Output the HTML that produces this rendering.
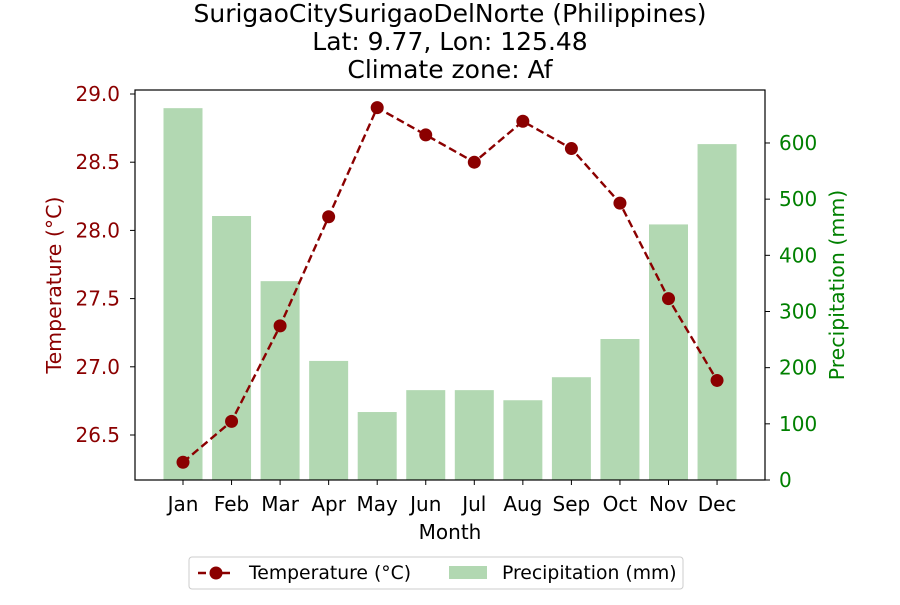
<!DOCTYPE html>
<html><head><meta charset="utf-8"><style>
body{margin:0;background:#fff;font-family:"Liberation Sans","DejaVu Sans",sans-serif;}
svg text{font-family:"DejaVu Sans","Liberation Sans",sans-serif;}
</style></head><body>
<svg id="c" width="900" height="600" xmlns="http://www.w3.org/2000/svg">
<text x="450" y="22" text-anchor="middle" font-size="25">SurigaoCitySurigaoDelNorte (Philippines)</text>
<text x="450" y="50" text-anchor="middle" font-size="25">Lat: 9.77, Lon: 125.48</text>
<text x="450" y="78" text-anchor="middle" font-size="25">Climate zone: Af</text>
<g id="bars"></g><g id="line"></g><g id="axes"></g>
<rect x="135" y="90" width="630" height="390" fill="none" stroke="#000" stroke-width="1.2"/>
<text x="450" y="539" text-anchor="middle" font-size="20">Month</text>
<text transform="translate(61,285) rotate(-90)" text-anchor="middle" font-size="20.5" fill="#8b0000">Temperature (°C)</text>
<text transform="translate(844,285) rotate(-90)" text-anchor="middle" font-size="20.5" fill="#008000">Precipitation (mm)</text>
<g>
<rect x="189" y="557" width="494" height="32" rx="3" fill="#fff" stroke="#ccc"/>
<g>
<line x1="198" y1="573" x2="234" y2="573" stroke="#8b0000" stroke-width="2.4" stroke-dasharray="8,4"/>
<circle cx="216" cy="573" r="6.5" fill="#8b0000"/>
<text x="249" y="579" font-size="18.8">Temperature (°C)</text></g>
<g>
<rect x="449" y="566" width="38" height="13" fill="#b2d8b2"/>
<text x="502" y="579" font-size="18.8">Precipitation (mm)</text></g>
</g>
</svg>
<script>
const months=["Jan","Feb","Mar","Apr","May","Jun","Jul","Aug","Sep","Oct","Nov","Dec"];
const temps=[26.3,26.6,27.3,28.1,28.9,28.7,28.5,28.8,28.6,28.2,27.5,26.9];
const precip=[662,470,354,212,121,160,160,142,183,251,455,598];
const tempTicks=[26.5,27.0,27.5,28.0,28.5,29.0];
const precipTicks=[0,100,200,300,400,500,600];
const NS="http://www.w3.org/2000/svg";
const x=i=>183+i*48.55;
const yT=v=>435-(v-26.5)*136.4;
const yP=v=>480-v*0.5617;
function mk(t,a,p){const e=document.createElementNS(NS,t);for(const k in a)e.setAttribute(k,a[k]);p.appendChild(e);return e;}
const bars=document.getElementById('bars'),line=document.getElementById('line'),axes=document.getElementById('axes');
precip.forEach((v,i)=>{const r=mk('rect',{x:x(i)-19.5,y:yP(v),width:39,height:480-yP(v),fill:'#b2d8b2'},bars);

});
const pl=mk('polyline',{points:temps.map((v,i)=>x(i)+','+yT(v)).join(' '),fill:'none',stroke:'#8b0000','stroke-width':2.4,'stroke-dasharray':'8,4'},line);


temps.forEach((v,i)=>{const c=mk('circle',{cx:x(i),cy:yT(v),r:6.5,fill:'#8b0000'},line);

});
months.forEach((m,i)=>{mk('line',{x1:x(i),y1:480,x2:x(i),y2:485,stroke:'#000'},axes);
const t=mk('text',{x:x(i),y:511,'text-anchor':'middle','font-size':20},axes);t.textContent=m;

});
tempTicks.forEach(v=>{mk('line',{x1:130,y1:yT(v),x2:135,y2:yT(v),stroke:'#000'},axes);
const t=mk('text',{x:120,y:yT(v)+7,'text-anchor':'end','font-size':20,fill:'#8b0000'},axes);t.textContent=v.toFixed(1);

});
precipTicks.forEach(v=>{mk('line',{x1:765,y1:yP(v),x2:770,y2:yP(v),stroke:'#000'},axes);
const t=mk('text',{x:779,y:yP(v)+7,'font-size':20,fill:'#008000'},axes);t.textContent=v;

});
</script>
</body></html>
